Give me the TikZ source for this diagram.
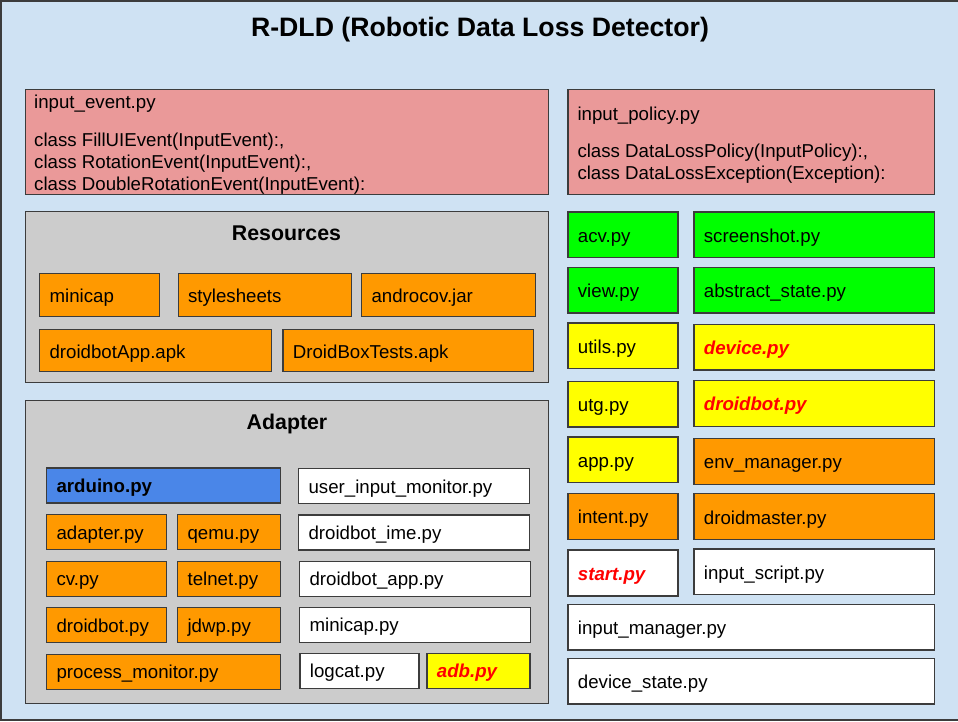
\documentclass[tikz,border=0pt]{standalone}
\usepackage{fontspec}
\setmainfont{Liberation Sans}
\definecolor{rdldsky}{HTML}{CFE2F3}
\definecolor{rdldpink}{HTML}{EA9999}
\definecolor{rdldgray}{HTML}{CCCCCC}
\definecolor{rdldorange}{HTML}{FF9900}
\definecolor{rdldgreen}{HTML}{00FF00}
\definecolor{rdldyellow}{HTML}{FFFF00}
\definecolor{rdldcorn}{HTML}{4A86E8}
\definecolor{rdldline}{HTML}{3C3C3C}
\tikzset{
    pyfile/.style={draw=rdldline, line width=1.2pt, anchor=north west, inner xsep=10pt, inner ysep=0pt, align=left, text height=15pt, text depth=0pt, font=\fontsize{18.67}{22}\selectfont},
    modbox/.style={pyfile, minimum height=35pt, text height=14pt},
    pkgbox/.style={draw=rdldline, line width=1.2pt, fill=rdldgray, anchor=north west, inner sep=0pt},
    classlist/.style={anchor=north west, inner sep=0pt, align=left, font=\fontsize{18.67}{22}\selectfont},
    grouptitle/.style={anchor=base, font=\bfseries\fontsize{21.33}{24}\selectfont},
    hot/.style={font=\bfseries\itshape\fontsize{18.67}{22}\selectfont, text=red}
}

\begin{document}
\begin{tikzpicture}[x=1pt,y=-1pt]
                \useasboundingbox (0,0) rectangle (958,721);
                \draw[fill=rdldsky, draw=rdldline, line width=2pt] (1,1) rectangle (975,720);

                \node[anchor=base, font=\bfseries\fontsize{26.67}{30}\selectfont] (title) at (480,36.2) {R-DLD (Robotic Data Loss Detector)};

                \node[pkgbox, fill=rdldpink, minimum width=523pt, minimum height=105pt] (inputevent) at (25,89) {};
                \node[classlist] (eventtext) at (34,94.8) {input\_event.py\\[16.3pt]class FillUIEvent(InputEvent):,\\class RotationEvent(InputEvent):,\\class DoubleRotationEvent(InputEvent):};
                \node[pkgbox, fill=rdldpink, minimum width=366.7pt, minimum height=105pt] (inputpolicy) at (567.3,89) {};
                \node[classlist] (policytext) at (577.3,106.4) {input\_policy.py\\[15.7pt]class DataLossPolicy(InputPolicy):,\\class DataLossException(Exception):};

                \node[pkgbox, minimum width=523pt, minimum height=171pt] (resources) at (25,211) {};
                \node[grouptitle] (restitle) at (286.5,240.8) {Resources};
                \node[pyfile, fill=rdldorange, text width=100pt, minimum height=42.5pt] (minicap) at (39,273) {minicap};
                \node[pyfile, fill=rdldorange, text width=153pt, minimum height=42.5pt] (stylesheets) at (177.5,273) {stylesheets};
                \node[pyfile, fill=rdldorange, text width=153.5pt, minimum height=42.5pt] (androcov) at (361,273) {androcov.jar};
                \node[pyfile, fill=rdldorange, text width=211.5pt, minimum height=42.5pt] (droidbotapk) at (39,328.7) {droidbotApp.apk};
                \node[pyfile, fill=rdldorange, text width=230.5pt, minimum height=42.5pt] (droidboxapk) at (282.3,328.7) {DroidBoxTests.apk};

                \node[pkgbox, minimum width=523pt, minimum height=303pt] (adapter) at (25,400) {};
                \node[grouptitle] (adaptitle) at (287,429.5) {Adapter};
                \node[modbox, fill=rdldcorn, text width=214pt, font=\bfseries\fontsize{18.67}{22}\selectfont] (arduino) at (46,467.3) {arduino.py};
                \node[modbox, fill=white, text width=211pt] (userinput) at (298,468) {user\_input\_monitor.py};
                \node[modbox, fill=rdldorange, text width=99.5pt] (adapterpy) at (46,514) {adapter.py};
                \node[modbox, fill=rdldorange, text width=83pt] (qemu) at (177,514) {qemu.py};
                \node[modbox, fill=white, text width=211pt] (ime) at (298,514.3) {droidbot\_ime.py};
                \node[modbox, fill=rdldorange, text width=99.5pt] (cv) at (46,560.7) {cv.py};
                \node[modbox, fill=rdldorange, text width=83pt] (telnet) at (177,560.7) {telnet.py};
                \node[modbox, fill=white, text width=211pt] (botapp) at (299,560.5) {droidbot\_app.py};
                \node[modbox, fill=rdldorange, text width=99.5pt] (adaptbot) at (46,607) {droidbot.py};
                \node[modbox, fill=rdldorange, text width=83pt] (jdwp) at (177,607) {jdwp.py};
                \node[modbox, fill=white, text width=211pt] (minicappy) at (299,606.7) {minicap.py};
                \node[modbox, fill=rdldorange, text width=214pt] (procmon) at (46,653.7) {process\_monitor.py};
                \node[modbox, fill=white, text width=99pt] (logcat) at (299.3,652.7) {logcat.py};
                \node[modbox, fill=rdldyellow, text width=83pt, hot] (adb) at (426.3,652.7) {adb.py};

                \node[pyfile, fill=rdldgreen, text width=90pt, minimum height=45.7pt] (acv) at (567.3,211.3) {acv.py};
                \node[pyfile, fill=rdldgreen, text width=220.7pt, minimum height=45.7pt] (screenshot) at (693.3,211.3) {screenshot.py};
                \node[pyfile, fill=rdldgreen, text width=90pt, minimum height=45.6pt] (view) at (567.3,266.7) {view.py};
                \node[pyfile, fill=rdldgreen, text width=220.7pt, minimum height=45.6pt] (abstate) at (693.3,266.7) {abstract\_state.py};
                \node[pyfile, fill=rdldyellow, text width=90pt, minimum height=45.4pt] (utils) at (567.3,322.3) {utils.py};
                \node[pyfile, fill=rdldyellow, text width=220.7pt, minimum height=45.6pt, hot] (device) at (693.3,323.7) {device.py};
                \node[pyfile, fill=rdldyellow, text width=90pt, minimum height=45.3pt] (utg) at (567.3,381) {utg.py};
                \node[pyfile, fill=rdldyellow, text width=220.7pt, minimum height=45.7pt, hot] (droidbot) at (693.3,380) {droidbot.py};
                \node[pyfile, fill=rdldyellow, text width=90pt, minimum height=45.7pt] (app) at (567.3,436.3) {app.py};
                \node[pyfile, fill=rdldorange, text width=220.7pt, minimum height=46pt] (envman) at (693.3,437.7) {env\_manager.py};
                \node[pyfile, fill=rdldorange, text width=90pt, minimum height=45.7pt] (intent) at (567.3,493) {intent.py};
                \node[pyfile, fill=rdldorange, text width=220.7pt, minimum height=46pt] (droidmaster) at (693.3,493) {droidmaster.py};
                \node[pyfile, fill=white, text width=90pt, minimum height=46pt, hot] (start) at (567.3,549.3) {start.py};
                \node[pyfile, fill=white, text width=220.7pt, minimum height=45.7pt] (inputscript) at (693.3,548.3) {input\_script.py};
                \node[pyfile, fill=white, text width=346.7pt, minimum height=45.6pt] (inputman) at (567.3,603.7) {input\_manager.py};
                \node[pyfile, fill=white, text width=346.7pt, minimum height=45.6pt] (devstate) at (567.3,657.7) {device\_state.py};
            \end{tikzpicture}
\end{document}
